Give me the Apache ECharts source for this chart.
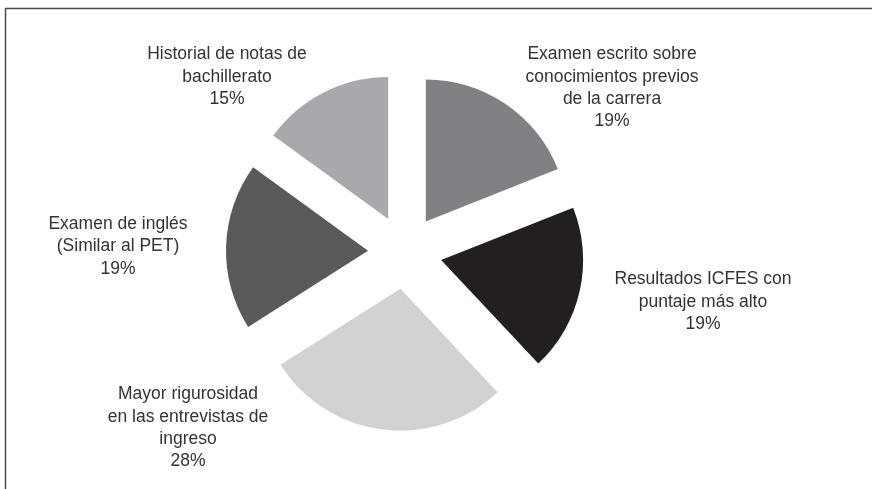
<!DOCTYPE html>
<html>
<head>
<meta charset="utf-8">
<script src="https://cdn.jsdelivr.net/npm/echarts@6/dist/echarts.min.js"></script>
<style>
    html, body { margin: 0; padding: 0; background: #fff; }
    #chart { width: 872px; height: 489px; }
</style>
</head>
<body>
<div id="chart"></div>
<script>
// categories and values
var categories = [
    'Examen escrito sobre\nconocimientos previos\nde la carrera',
    'Resultados ICFES con\npuntaje más alto',
    'Mayor rigurosidad\nen las entrevistas de\ningreso',
    'Examen de inglés\n(Similar al PET)',
    'Historial de notas de\nbachillerato'
]
var values = [19, 19, 28, 19, 15]
var colors = ['#808184', '#231f20', '#d1d2d4', '#58595b', '#a7a9ac']

// where each label block sits (centre)
var labelPos = [
    [612, 88],
    [703, 302],
    [188, 428],
    [118, 246.5],
    [227, 77]
]

var chart = echarts.init(document.getElementById('chart'))

var sliceData = categories.map(function (name, i) {
    return {
        name: name,
        value: values[i],
        selected: true,
        itemStyle: { color: colors[i] }
    }
})
var labelData = categories.map(function (name, i) {
    return { name: name, value: values[i] }
})

chart.setOption({
    animation: false,
    graphic: [
        { type: 'line', shape: { x1: 5, y1: 8.5, x2: 872, y2: 8.5 }, style: { stroke: '#4a4a4a', lineWidth: 1.5 } },
        { type: 'line', shape: { x1: 5.5, y1: 8, x2: 5.5, y2: 489 }, style: { stroke: '#4a4a4a', lineWidth: 1.5 } }
    ],
    series: [
        {
            // exploded slices
            type: 'pie',
            center: [405, 252],
            radius: 142,
            startAngle: 90,
            clockwise: true,
            selectedMode: 'multiple',
            selectedOffset: 37,
            emphasis: { disabled: true },
            label: { show: false },
            labelLine: { show: false },
            data: sliceData
        },
        {
            // labels only
            type: 'pie',
            center: [405, 252],
            radius: 142,
            startAngle: 90,
            silent: true,
            emphasis: { disabled: true },
            itemStyle: { color: 'rgba(0,0,0,0)' },
            label: {
                show: true,
                position: 'outside',
                formatter: '{b}\n{d}%',
                fontFamily: 'Liberation Sans',
                fontSize: 17.5,
                lineHeight: 22.4,
                color: '#333333',
                align: 'center'
            },
            labelLine: { show: false },
            labelLayout: function (params) {
                var p = labelPos[params.dataIndex]
                return { x: p[0], y: p[1], align: 'center', verticalAlign: 'middle' }
            },
            data: labelData
        }
    ]
})
</script>
</body>
</html>
